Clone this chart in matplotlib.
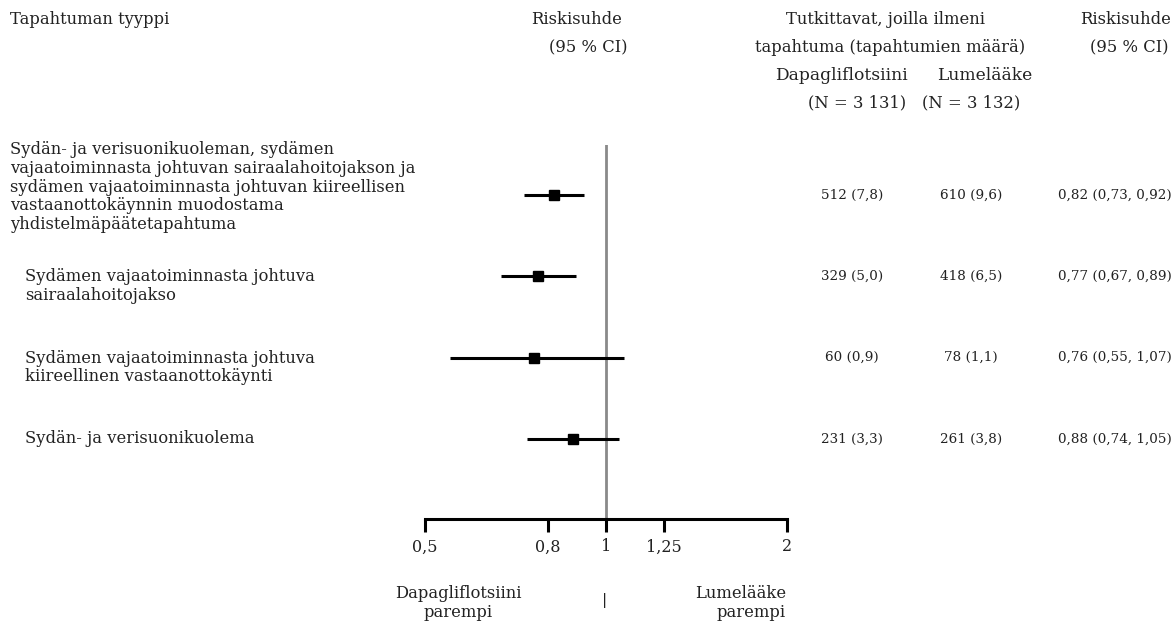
import matplotlib
matplotlib.use("Agg")
import matplotlib.pyplot as plt
from matplotlib.ticker import FixedLocator, NullLocator

plt.rcParams['font.family'] = ['DejaVu Serif']

W, H = 1173, 628

labels = [
    "Sydän- ja verisuonikuoleman, sydämen\nvajaatoiminnasta johtuvan sairaalahoitojakson ja\n"
    "sydämen vajaatoiminnasta johtuvan kiireellisen\nvastaanottokäynnin muodostama\nyhdistelmäpäätetapahtuma",
    "Sydämen vajaatoiminnasta johtuva\nsairaalahoitojakso",
    "Sydämen vajaatoiminnasta johtuva\nkiireellinen vastaanottokäynti",
    "Sydän- ja verisuonikuolema",
]
hr = [0.82, 0.77, 0.76, 0.88]
ci_low = [0.73, 0.67, 0.55, 0.74]
ci_high = [0.92, 0.89, 1.07, 1.05]
dapa_txt = ["512 (7,8)", "329 (5,0)", "60 (0,9)", "231 (3,3)"]
plac_txt = ["610 (9,6)", "418 (6,5)", "78 (1,1)", "261 (3,8)"]
hr_txt = ["0,82 (0,73, 0,92)", "0,77 (0,67, 0,89)", "0,76 (0,55, 1,07)", "0,88 (0,74, 1,05)"]
ticks = [0.5, 0.8, 1, 1.25, 2]
tick_labels = ["0,5", "0,8", "1", "1,25", "2"]

# layout tweaks (pixels)
label_x = [10, 25, 25, 25]
label_dy = [-8, 10, 10, 0]
txt_col = '#222222'


def fx(x):
    return x / W


def fy(y):
    return 1 - y / H


fig = plt.figure(figsize=(W / 100, H / 100), dpi=100)
ax = fig.add_axes([fx(425), fy(519), fx(787) - fx(425), fy(145) - fy(519)])

rows = list(range(len(hr)))
ax.set_xscale('log')
ax.set_xlim(0.5, 2)
ax.set_ylim(3.985, -0.615)

ax.axvline(1, color='#8a8a8a', lw=2, zorder=1)
for i in rows:
    ax.plot([ci_low[i], ci_high[i]], [i, i], color='black', lw=2.2, solid_capstyle='butt', zorder=2)
ax.plot(hr, rows, 's', color='black', ms=7, zorder=3)

for s in ['left', 'top', 'right']:
    ax.spines[s].set_visible(False)
ax.spines['bottom'].set_linewidth(2.2)
ax.yaxis.set_major_locator(NullLocator())
ax.xaxis.set_major_locator(FixedLocator(ticks))
ax.xaxis.set_minor_locator(NullLocator())
ax.set_xticklabels(tick_labels)
ax.tick_params(axis='x', direction='out', length=9, width=2.2, pad=5, labelsize=11.5, labelcolor=txt_col)


def t(x, y, s, size=11.8, ha='center', va='center', **kw):
    fig.text(fx(x), fy(y), s, fontsize=size, ha=ha, va=va, color=txt_col, **kw)


# headers
t(10, 20, "Tapahtuman tyyppi", ha='left')
t(577, 20, "Riskisuhde")
t(588, 48, "(95 % CI)")
t(886, 20, "Tutkittavat, joilla ilmeni")
t(890, 48, "tapahtuma (tapahtumien määrä)")
t(841, 75, "Dapagliflotsiini", size=12.3)
t(985, 75, "Lumelääke", size=12.3)
t(857, 103, "(N = 3 131)")
t(971, 103, "(N = 3 132)")
t(1171, 20, "Riskisuhde", ha='right')
t(1129, 48, "(95 % CI)")

# rows
row_px = [195 + 81.3 * i for i in rows]
for i in rows:
    y = row_px[i]
    t(label_x[i], y + label_dy[i], labels[i], ha='left', linespacing=1.13)
    t(852, y, dapa_txt[i], size=9.7)
    t(971, y, plac_txt[i], size=9.7)
    t(1172, y, hr_txt[i], size=9.7, ha='right')

# favours
t(458, 603, "Dapagliflotsiini\nparempi", linespacing=1.1)
t(605, 600, "|", size=11)
t(786, 603, "Lumelääke\nparempi", ha='right', linespacing=1.1, multialignment='right')

fig.savefig("out.png", dpi=100, facecolor='white')
